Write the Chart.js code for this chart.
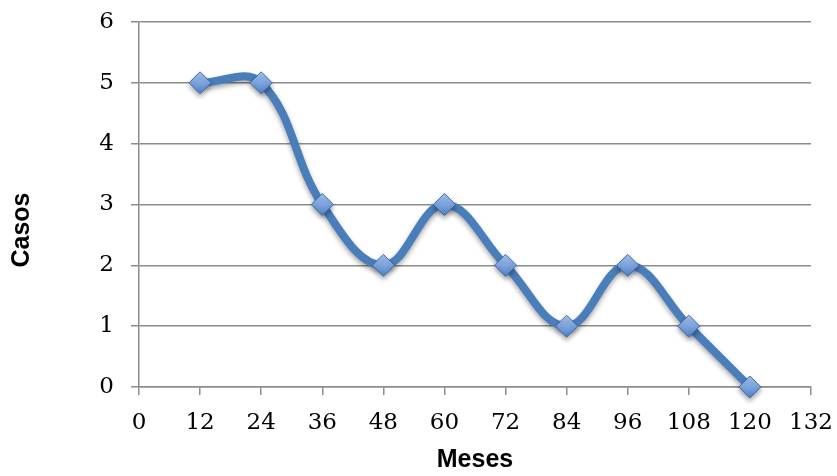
<!DOCTYPE html>
<html>
<head>
<meta charset="utf-8">
<script src="https://cdn.jsdelivr.net/npm/chart.js@4/dist/chart.umd.min.js"></script>
<style>
  html, body { margin: 0; padding: 0; background: #ffffff; }
  #wrap { width: 837px; height: 476px; position: relative; }
</style>
</head>
<body>
<div id="wrap"><canvas id="c"></canvas></div>
<script>
// Months since start and number of cases
const months = [12, 24, 36, 48, 60, 72, 84, 96, 108, 120];
const cases = [5, 5, 3, 2, 3, 2, 1, 2, 1, 0];
const xTicks = [0, 12, 24, 36, 48, 60, 72, 84, 96, 108, 120, 132];
const yTicks = [0, 1, 2, 3, 4, 5, 6];

const xTitle = 'Meses';
const yTitle = 'Casos';

const points = months.map((m, i) => ({ x: m, y: cases[i] }));

// Rotated y-axis title placed beside the tick labels
const yTitlePlugin = {
  id: 'yTitle',
  afterDraw(chart) {
    const ctx = chart.ctx;
    ctx.save();
    ctx.translate(22, 230);
    ctx.rotate(-Math.PI / 2);
    ctx.font = 'bold 25px "Liberation Sans", Arial, sans-serif';
    ctx.fillStyle = '#000000';
    ctx.textAlign = 'center';
    ctx.textBaseline = 'middle';
    ctx.fillText(yTitle, 0, 0);
    ctx.restore();
  }
};

// Soft drop shadow under the series
const shadowPlugin = {
  id: 'seriesShadow',
  beforeDatasetDraw(chart) {
    const ctx = chart.ctx;
    ctx.save();
    ctx.shadowColor = 'rgba(0,0,0,0.35)';
    ctx.shadowBlur = 5;
    ctx.shadowOffsetX = 0;
    ctx.shadowOffsetY = 3;
  },
  afterDatasetDraw(chart) {
    chart.ctx.restore();
  }
};

function markerFill(context) {
  const chart = context.chart;
  const y = chart.scales && chart.scales.y && context.parsed
    ? chart.scales.y.getPixelForValue(context.parsed.y) : null;
  if (y == null || isNaN(y)) return '#7ba3dd';
  const g = chart.ctx.createLinearGradient(0, y - 11, 0, y + 11);
  g.addColorStop(0, '#a8c6f0');
  g.addColorStop(0.5, '#7ea6e0');
  g.addColorStop(1, '#4f7fc4');
  return g;
}

const tickFont = { family: '"DejaVu Serif", "Liberation Serif", serif', size: 23 };

new Chart(document.getElementById('c'), {
  type: 'line',
  data: {
    datasets: [{
      data: points,
      borderColor: '#4a7ebb',
      borderWidth: 8,
      tension: 0.4,
      fill: false,
      clip: false,
      pointStyle: 'rectRot',
      pointRadius: 11,
      pointHoverRadius: 11,
      pointBackgroundColor: markerFill,
      pointBorderColor: '#3d6db0',
      pointBorderWidth: 1
    }]
  },
  options: {
    responsive: true,
    maintainAspectRatio: false,
    animation: false,
    devicePixelRatio: 1,
    layout: { padding: { left: 0, right: 26, top: 22, bottom: 0 } },
    plugins: { legend: { display: false }, tooltip: { enabled: false } },
    scales: {
      x: {
        type: 'linear',
        min: 0,
        max: 132,
        afterBuildTicks(scale) { scale.ticks = xTicks.map(v => ({ value: v })); },
        afterFit(scale) { scale.height = 89; scale.paddingLeft = 0; scale.paddingRight = 0; },
        ticks: { color: '#000000', font: tickFont, padding: 14, maxRotation: 0, autoSkip: false },
        grid: { drawOnChartArea: false, drawTicks: true, tickLength: 8, color: '#8c8c8c', lineWidth: 1.5 },
        border: { display: true, color: '#8c8c8c', width: 1.5 },
        title: {
          display: true,
          text: xTitle,
          color: '#000000',
          font: { family: '"Liberation Sans", Arial, sans-serif', size: 25, weight: 'bold' },
          padding: { top: 0, bottom: 1 }
        }
      },
      y: {
        type: 'linear',
        min: 0,
        max: 6,
        afterBuildTicks(scale) { scale.ticks = yTicks.map(v => ({ value: v })); },
        afterFit(scale) { scale.width = 139; scale.paddingTop = 0; scale.paddingBottom = 0; },
        ticks: { color: '#000000', font: tickFont, padding: 17 },
        grid: { drawOnChartArea: true, drawTicks: true, tickLength: 8, color: '#8c8c8c', lineWidth: 1.5 },
        border: { display: true, color: '#8c8c8c', width: 1.5 }
      }
    }
  },
  plugins: [shadowPlugin, yTitlePlugin]
});
</script>
</body>
</html>
